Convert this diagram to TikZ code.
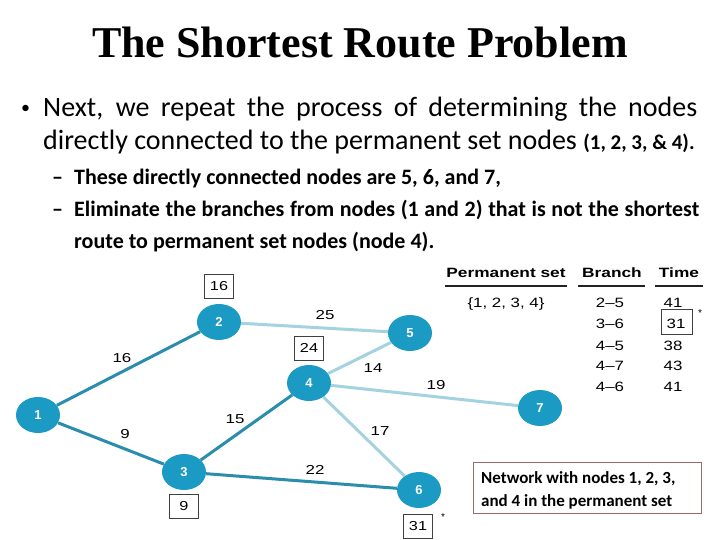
\documentclass[tikz,border=0pt]{standalone}
\usepackage{fontspec}
\setmainfont{Carlito}
\newfontfamily\titlefont{Liberation Serif}
\newfontfamily\arialfont{Liberation Sans}
\usetikzlibrary{shapes.geometric,backgrounds}
\definecolor{nodeblue}{HTML}{1B9AC3}
\definecolor{darkedge}{HTML}{2A8DAD}
\definecolor{lightedge}{HTML}{A3D3E0}
\definecolor{capborder}{HTML}{9A6A6A}
\definecolor{rulegray}{HTML}{222222}
\tikzset{
  netnode/.style={ellipse, fill=nodeblue, minimum width=44pt, minimum height=36pt, inner sep=0pt,
    text=white, font=\arialfont\bfseries\fontsize{13}{13}\selectfont},
  permedge/.style={draw=darkedge, line width=3pt},
  tempedge/.style={draw=lightedge, line width=3pt},
  elabel/.style={font=\arialfont\fontsize{13}{13}\selectfont, inner sep=0pt, xscale=1.3},
  valbox/.style={draw=black!75, line width=0.8pt, minimum width=29pt, minimum height=24pt, inner sep=0pt, fill=white},
  valtext/.style={font=\arialfont\fontsize{13}{13}\selectfont, inner sep=0pt, xscale=1.25},
  tabhead/.style={font=\arialfont\bfseries\fontsize{13.5}{13.5}\selectfont, anchor=base, inner sep=0pt, xscale=1.28},
  tabcell/.style={font=\arialfont\fontsize{13.5}{13.5}\selectfont, anchor=base, inner sep=0pt, xscale=1.25},
  bodytext/.style={anchor=base west, inner sep=0pt, font=\fontsize{28}{28}\selectfont},
  subtext/.style={anchor=base west, inner sep=0pt, font=\bfseries\fontsize{22}{22}\selectfont},
  star/.style={font=\arialfont\fontsize{10}{10}\selectfont, inner sep=0pt},
  headrule/.style={draw=rulegray, line width=1.6pt}
}
\begin{document}
\begin{tikzpicture}[x=1pt,y=-1pt]
\useasboundingbox (0,0) rectangle (720,540);
% network nodes
\node[netnode] (n1) at (38,415) {1};
\node[netnode] (n2) at (219,322) {2};
\node[netnode] (n3) at (184,472) {3};
\node[netnode] (n4) at (309,383) {4};
\node[netnode] (n5) at (410,333) {5};
\node[netnode] (n6) at (419,490) {6};
\node[netnode] (n7) at (540,408) {7};
% table header anchors for the rules
\coordinate (ra1) at (445,286); \coordinate (rb1) at (567,286);
\coordinate (ra2) at (578,286); \coordinate (rb2) at (645,286);
\coordinate (ra3) at (655,286); \coordinate (rb3) at (703,286);
% background, edges and header rules
\begin{pgfonlayer}{background}
\fill[white] (0,0) rectangle (720,540);
\path[tempedge] (n2) -- (n5);
\path[tempedge] (n4) -- (n5);
\path[tempedge] (n4) -- (n7);
\path[tempedge] (n4) -- (n6);
\path[permedge] (n1) -- (n2);
\path[permedge] (n1) -- (n3);
\path[permedge] (n3) -- (n4);
\path[permedge] (n3) -- (n6);
\path[headrule] (ra1) -- (rb1);
\path[headrule] (ra2) -- (rb2);
\path[headrule] (ra3) -- (rb3);
\end{pgfonlayer}
% title
\node[anchor=base, inner sep=0pt, font=\titlefont\bfseries\fontsize{44}{44}\selectfont] (title) at (360,58) {The Shortest Route Problem};
% bullet text
\node[anchor=base west, inner sep=0pt, font=\fontsize{18}{18}\selectfont] (b1dot) at (21,114) {•};
\node[bodytext] (b1l1) at (43,117) {\hbox to 654pt{Next, we repeat the process of determining the nodes}};
\node[bodytext] (b1l2) at (43,150) {directly connected to the permanent set nodes {\bfseries\fontsize{21}{21}\selectfont (1, 2, 3, \& 4).}};
\node[subtext] (s1dash) at (52,185) {–};
\node[subtext] (s1) at (74,185) {These directly connected nodes are 5, 6, and 7,};
\node[subtext] (s2dash) at (52,217) {–};
\node[subtext] (s2) at (74,217) {\hbox to 625pt{Eliminate the branches from nodes (1 and 2) that is not the shortest}};
\node[subtext] (s3) at (74,248) {route to permanent set nodes (node 4).};
% edge labels
\node[elabel] (l12) at (122,358) {16};
\node[elabel] (l25) at (325,315) {25};
\node[elabel] (l45) at (373,368) {14};
\node[elabel] (l47) at (436,385) {19};
\node[elabel] (l34) at (235,419) {15};
\node[elabel] (l13) at (125,434) {9};
\node[elabel] (l46) at (380,431) {17};
\node[elabel] (l36) at (315,470) {22};
% value boxes
\node[valbox] (v2) at (219,286) {};
\node[valtext] at (v2) {16};
\node[valbox] (v4) at (309,348) {};
\node[valtext] at (v4) {24};
\node[valbox] (v3) at (184,506) {};
\node[valtext] at (v3) {9};
\node[valbox] (v6) at (418,526) {};
\node[valtext] at (v6) {31};
\node[star] (st6) at (443,517) {*};
% table headers
\node[tabhead] (hperm) at (506,277) {Permanent set};
\node[tabhead] (hbranch) at (612,277) {Branch};
\node[tabhead] (htime) at (679,277) {Time};
% table body
\node[tabcell] (pset) at (506,307) {\{1, 2, 3, 4\}};
\node[tabcell] (br1) at (610,307) {2–5};
\node[tabcell] (br2) at (610,328) {3–6};
\node[tabcell] (br3) at (610,350) {4–5};
\node[tabcell] (br4) at (610,370) {4–7};
\node[tabcell] (br5) at (610,391) {4–6};
\node[tabcell] (t1) at (673,307) {41};
\node[tabcell] (t2) at (676,328) {31};
\node[tabcell] (t3) at (673,350) {38};
\node[tabcell] (t4) at (673,370) {43};
\node[tabcell] (t5) at (673,391) {41};
\node[draw=black!75, line width=0.8pt, minimum width=31pt, minimum height=25pt, inner sep=0pt] (t2box) at (676.5,322) {};
\node[star] (st2) at (700,313) {*};
% caption
\node[draw=capborder, line width=0.8pt, minimum width=228pt, minimum height=51pt, inner sep=0pt] (cap) at (587,487.5) {};
\node[anchor=base west, inner sep=0pt, font=\bfseries\fontsize{17}{17}\selectfont] (cap1) at (481,483) {Network with nodes 1, 2, 3,};
\node[anchor=base west, inner sep=0pt, font=\bfseries\fontsize{17}{17}\selectfont] (cap2) at (481,506) {and 4 in the permanent set};
\end{tikzpicture}
\end{document}
